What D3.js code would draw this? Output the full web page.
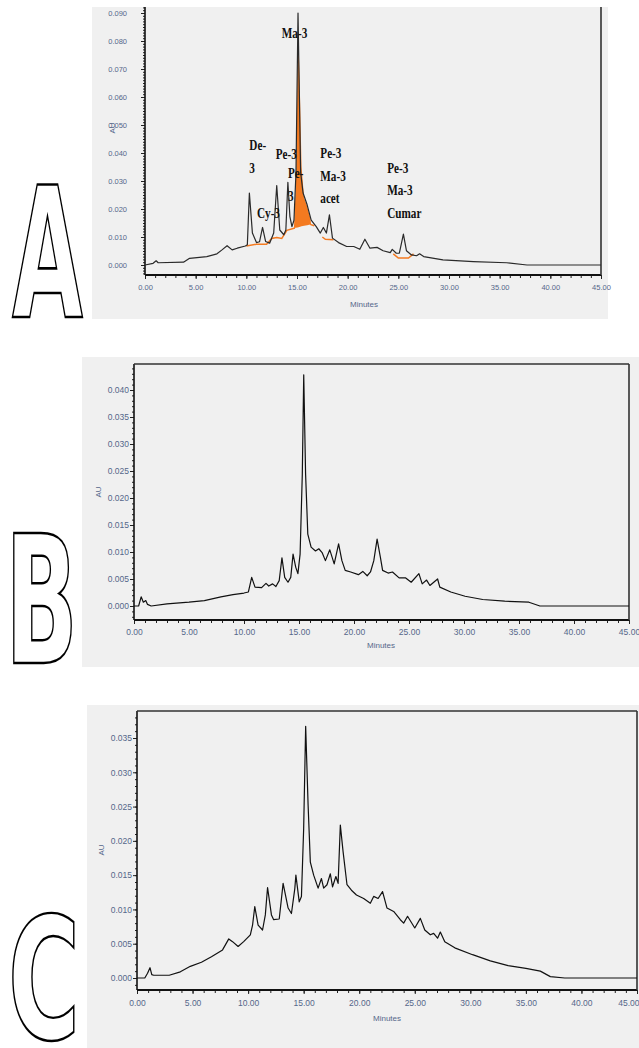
<!DOCTYPE html>
<html>
<head>
<meta charset="utf-8">
<script src="https://cdn.jsdelivr.net/npm/d3@7"></script>
<style>
  body { margin: 0; background: #fff; }
  svg { display: block; }
</style>
</head>
<body>
<svg id="fig" width="639" height="1048"></svg>
<script>
// Chromatograms: [retention time (min), absorbance (AU)]
const traceA = [
  [0.0,0.0000],[0.8,0.0006],[1.1,0.0015],[1.3,0.0008],[3.8,0.0010],[4.4,0.0024],[6.1,0.0030],
  [7.1,0.0040],[7.6,0.0054],[8.1,0.0069],[8.6,0.0054],[9.1,0.0060],[9.9,0.0068],[10.1,0.0072],
  [10.3,0.0257],[10.6,0.0114],[11.0,0.0080],[11.3,0.0083],[11.6,0.0134],[11.9,0.0084],[12.3,0.0078],
  [12.7,0.0114],[13.0,0.0284],[13.3,0.0125],[13.7,0.0108],[13.9,0.0125],[14.1,0.0295],[14.3,0.0173],
  [14.5,0.0137],[14.7,0.0160],[14.9,0.0330],[15.1,0.0900],[15.36,0.0330],[15.6,0.0257],[16.0,0.0215],
  [16.4,0.0160],[16.9,0.0137],[17.3,0.0114],[17.6,0.0134],[17.9,0.0114],[18.2,0.0179],[18.5,0.0096],
  [19.1,0.0080],[19.9,0.0066],[20.6,0.0066],[21.2,0.0056],[21.7,0.0092],[22.2,0.0060],[22.9,0.0063],
  [23.5,0.0051],[24.2,0.0044],[24.4,0.0056],[24.8,0.0042],[25.1,0.0042],[25.5,0.0110],[25.8,0.0051],
  [26.3,0.0036],[26.8,0.0033],[27.1,0.0040],[27.5,0.0030],[29.4,0.0018],[32.4,0.0012],[35.7,0.0008],
  [37.7,0.0000],[45.0,0.0000]
];

// Integration baselines drawn under the identified peaks
const baseA = [
  [[10.0,0.0068],[11.0,0.0074],[12.0,0.0074],[12.5,0.0095],[13.0,0.0098],[13.5,0.0095],[14.0,0.0124],[14.8,0.0132]],
  [[16.3,0.0145],[16.7,0.0140]],
  [[17.5,0.0100],[17.8,0.0092],[18.6,0.0090]],
  [[24.5,0.0040],[25.0,0.0025],[26.0,0.0025],[26.5,0.0040]]
];

// Ma-3 integrated area: [time, top, baseline]
const areaMa3 = [
  [14.7,0.0135,0.0132],[14.9,0.0300,0.0133],[15.05,0.0700,0.0134],[15.15,0.0800,0.0135],
  [15.3,0.0600,0.0137],[15.45,0.0350,0.0138],[15.7,0.0240,0.0140],[16.0,0.0210,0.0142],
  [16.3,0.0170,0.0145],[16.4,0.0145,0.0145]
];

// Peak names: text lines, anchored at [time, AU] of the first line
const peakLabels = [
  { lines: ["Ma-3"], t: 13.5, au: 0.0809 },
  { lines: ["De-", "3"], t: 10.3, au: 0.0410 },
  { lines: ["Pe-3"], t: 12.9, au: 0.0379 },
  { lines: ["Pe-", "3"], t: 14.1, au: 0.0310 },
  { lines: ["Cy-3"], t: 11.05, au: 0.0168 },
  { lines: ["Pe-3", "Ma-3", "acet"], t: 17.3, au: 0.0382 },
  { lines: ["Pe-3", "Ma-3", "Cumar"], t: 23.9, au: 0.0329 }
];

const traceB = [
  [0.0,0.0000],[0.42,0.0000],[0.65,0.0017],[0.85,0.0007],[1.07,0.0010],[1.23,0.0003],[1.56,0.0000],
  [3.0,0.0004],[5.0,0.0007],[6.4,0.0010],[7.9,0.0017],[9.0,0.0021],[10.0,0.0024],[10.4,0.0026],
  [10.7,0.0053],[11.0,0.0035],[11.6,0.0034],[12.0,0.0042],[12.25,0.0037],[12.6,0.0041],[12.9,0.0036],
  [13.2,0.0047],[13.45,0.0089],[13.7,0.0053],[14.0,0.0044],[14.25,0.0053],[14.46,0.0096],[14.7,0.0072],
  [14.9,0.0060],[15.1,0.0096],[15.3,0.0244],[15.43,0.0428],[15.6,0.0244],[15.8,0.0133],[16.1,0.0109],
  [16.5,0.0102],[16.8,0.0106],[17.1,0.0099],[17.4,0.0084],[17.8,0.0104],[18.2,0.0078],[18.6,0.0115],
  [18.9,0.0084],[19.2,0.0066],[19.7,0.0063],[20.4,0.0058],[20.8,0.0064],[21.2,0.0056],[21.5,0.0063],
  [21.8,0.0084],[22.1,0.0124],[22.4,0.0090],[22.6,0.0066],[23.1,0.0061],[23.5,0.0063],[24.1,0.0052],
  [24.7,0.0052],[25.2,0.0044],[25.9,0.0060],[26.2,0.0041],[26.6,0.0048],[26.9,0.0038],[27.6,0.0050],
  [27.8,0.0035],[28.8,0.0026],[30.1,0.0018],[31.7,0.0012],[33.7,0.0009],[35.9,0.0007],[36.9,0.0000],
  [45.0,0.0000]
];

const traceC = [
  [0.0,0.0000],[0.7,0.0000],[0.95,0.0007],[1.17,0.0015],[1.33,0.0005],[1.5,0.0004],[2.9,0.0004],
  [3.9,0.0009],[4.8,0.0017],[5.8,0.0023],[6.7,0.0031],[7.7,0.0041],[8.26,0.0057],[8.6,0.0053],
  [9.1,0.0046],[9.6,0.0053],[10.2,0.0063],[10.4,0.0077],[10.6,0.0104],[10.9,0.0077],[11.3,0.0070],
  [11.55,0.0092],[11.75,0.0132],[12.1,0.0092],[12.3,0.0085],[12.8,0.0086],[13.15,0.0138],[13.6,0.0102],
  [13.9,0.0094],[14.2,0.0130],[14.3,0.0150],[14.6,0.0111],[14.8,0.0119],[15.0,0.0218],[15.18,0.0367],
  [15.4,0.0252],[15.6,0.0169],[15.9,0.0150],[16.3,0.0131],[16.6,0.0145],[16.8,0.0131],[17.1,0.0136],
  [17.4,0.0152],[17.6,0.0133],[17.9,0.0148],[18.1,0.0138],[18.3,0.0223],[18.55,0.0184],[18.9,0.0136],
  [19.3,0.0128],[19.75,0.0121],[20.4,0.0116],[21.0,0.0109],[21.3,0.0119],[21.7,0.0116],[22.1,0.0126],
  [22.5,0.0102],[23.1,0.0097],[23.7,0.0085],[24.0,0.0080],[24.35,0.0090],[25.0,0.0073],[25.5,0.0087],
  [25.9,0.0070],[26.4,0.0063],[26.7,0.0065],[27.05,0.0058],[27.3,0.0067],[27.7,0.0053],[28.6,0.0044],
  [30.2,0.0034],[31.8,0.0025],[33.4,0.0018],[35.0,0.0014],[36.3,0.0010],[37.2,0.0002],[38.5,0.0000],
  [45.0,0.0000]
];

const xMajorTicks = [0, 5, 10, 15, 20, 25, 30, 35, 40, 45];
const xMinorTicks = d3.range(0, 46, 1);
const yTicksA = [0, 0.01, 0.02, 0.03, 0.04, 0.05, 0.06, 0.07, 0.08, 0.09];
const yTicksB = [0, 0.005, 0.01, 0.015, 0.02, 0.025, 0.03, 0.035, 0.04];
const yTicksC = [0, 0.005, 0.01, 0.015, 0.02, 0.025, 0.03, 0.035];
const panelLetters = ["A", "B", "C"];

const svg = d3.select("#fig");
const tickFont = "'Liberation Sans', Arial, sans-serif";
const tickColor = "#55678a";

function drawPanel(cfg) {
  const g = svg.append("g");
  g.append("rect")
    .attr("x", cfg.bg[0]).attr("y", cfg.bg[1])
    .attr("width", cfg.bg[2]).attr("height", cfg.bg[3])
    .attr("fill", "#f0f0f0");

  const x = d3.scaleLinear().domain([0, 45]).range([cfg.l, cfg.r]);
  const y = d3.scaleLinear().domain([0, cfg.yMax]).range([cfg.y0, cfg.yTop]);

  // minor y ticks, every 0.001 AU inside the frame
  const lo = y.invert(cfg.b), hi = y.invert(cfg.t);
  const yMinor = d3.range(Math.ceil(lo / 0.001 - 1e-6), Math.floor(hi / 0.001 + 1e-6) + 1).map(i => i * 0.001);

  const yMin = g.append("g").attr("transform", `translate(${cfg.l},0)`)
    .call(d3.axisLeft(y).tickValues(yMinor).tickSize(2).tickFormat(""));
  const yMaj = g.append("g").attr("transform", `translate(${cfg.l},0)`)
    .call(d3.axisLeft(y).tickValues(cfg.yTicks).tickSize(4).tickPadding(cfg.yPad).tickFormat(d3.format(".3f")));
  const xMin = g.append("g").attr("transform", `translate(0,${cfg.b})`)
    .call(d3.axisBottom(x).tickValues(xMinorTicks).tickSize(3).tickFormat(""));
  const xMaj = g.append("g").attr("transform", `translate(0,${cfg.b})`)
    .call(d3.axisBottom(x).tickValues(xMajorTicks).tickSize(4).tickPadding(cfg.xPad).tickFormat(d3.format(".2f")));

  [yMin, yMaj, xMin, xMaj].forEach(a => {
    a.select(".domain").remove();
    a.selectAll("line").attr("stroke", "#222").attr("stroke-width", 1);
    a.selectAll("text")
      .attr("fill", tickColor)
      .style("font-family", tickFont)
      .style("font-size", cfg.tickSize + "px");
  });

  // keep the last time label inside the page when the frame reaches the edge
  if (cfg.lastLabelEnd) {
    xMaj.selectAll(".tick").filter(d => d === 45).select("text")
      .attr("text-anchor", "end")
      .attr("x", cfg.lastLabelEnd - cfg.r);
  }

  // frame
  const frame = g.append("g").attr("stroke", "#333").attr("fill", "none");
  frame.append("line").attr("x1", cfg.l).attr("x2", cfg.l).attr("y1", cfg.t).attr("y2", cfg.b).attr("stroke-width", 1.6).attr("stroke", "#111");
  frame.append("line").attr("x1", cfg.l).attr("x2", cfg.r).attr("y1", cfg.b).attr("y2", cfg.b).attr("stroke-width", 2).attr("stroke", "#111");
  frame.append("line").attr("x1", cfg.r).attr("x2", cfg.r).attr("y1", cfg.t).attr("y2", cfg.b).attr("stroke-width", 1.6);
  if (cfg.topBorder) {
    frame.append("line").attr("x1", cfg.l).attr("x2", cfg.r).attr("y1", cfg.t).attr("y2", cfg.t).attr("stroke-width", 1.6);
  }

  // axis titles
  g.append("text")
    .attr("x", cfg.minutesPos[0]).attr("y", cfg.minutesPos[1])
    .attr("text-anchor", "middle")
    .attr("fill", tickColor)
    .style("font-family", tickFont).style("font-size", "8px")
    .text("Minutes");
  g.append("text")
    .attr("transform", `translate(${cfg.auPos[0]},${cfg.auPos[1]}) rotate(-90)`)
    .attr("text-anchor", "middle")
    .attr("fill", tickColor)
    .style("font-family", tickFont).style("font-size", "8px")
    .text("AU");

  return { g, x, y };
}

const lineGen = (x, y) => d3.line().x(d => x(d[0])).y(d => y(d[1]));

// ---------- Panel A ----------
const pA = drawPanel({
  bg: [92, 7, 516, 312], l: 145, r: 601, t: 7, b: 275,
  yMax: 0.09, y0: 265, yTop: 13, yTicks: yTicksA,
  yPad: 14, xPad: 6, tickSize: 7.5, topBorder: false,
  minutesPos: [364, 307], auPos: [115, 128]
});

pA.g.append("path")
  .datum(areaMa3)
  .attr("fill", "#f47a20")
  .attr("d", d3.area().x(d => pA.x(d[0])).y0(d => pA.y(d[2])).y1(d => pA.y(d[1])));
baseA.forEach(seg => {
  pA.g.append("path").datum(seg)
    .attr("fill", "none").attr("stroke", "#f47a20").attr("stroke-width", 1.5)
    .attr("d", lineGen(pA.x, pA.y));
});
pA.g.append("path").datum(traceA)
  .attr("fill", "none").attr("stroke", "#2a2a2a").attr("stroke-width", 1.2)
  .attr("stroke-linejoin", "round")
  .attr("d", lineGen(pA.x, pA.y));

peakLabels.forEach(lab => {
  const x0 = pA.x(lab.t), y0 = pA.y(lab.au);
  const t = pA.g.append("text")
    .attr("transform", `translate(${x0},${y0}) scale(0.8,1)`)
    .style("font-family", "'Liberation Serif', 'DejaVu Serif', serif")
    .style("font-weight", "bold")
    .style("font-size", "14px")
    .attr("fill", "#111");
  lab.lines.forEach((s, i) => {
    t.append("tspan").attr("x", 0).attr("y", i * 22.5).text(s);
  });
});

// ---------- Panel B ----------
const pB = drawPanel({
  bg: [82, 357, 557, 310], l: 134, r: 629, t: 364, b: 620,
  yMax: 0.04, y0: 606, yTop: 390, yTicks: yTicksB,
  yPad: 1, xPad: 5, tickSize: 8.5, topBorder: true,
  minutesPos: [381, 648], auPos: [101, 492]
});
pB.g.append("path").datum(traceB)
  .attr("fill", "none").attr("stroke", "#111").attr("stroke-width", 1.2)
  .attr("stroke-linejoin", "round")
  .attr("d", lineGen(pB.x, pB.y));

// ---------- Panel C ----------
const pC = drawPanel({
  bg: [87, 705, 552, 343], l: 137, r: 637, t: 711, b: 990,
  yMax: 0.035, y0: 978, yTop: 738, yTicks: yTicksC,
  yPad: 1, xPad: 6, tickSize: 8.5, topBorder: true,
  minutesPos: [387, 1021], auPos: [104, 850], lastLabelEnd: 639
});
pC.g.append("path").datum(traceC)
  .attr("fill", "none").attr("stroke", "#111").attr("stroke-width", 1.2)
  .attr("stroke-linejoin", "round")
  .attr("d", lineGen(pC.x, pC.y));

// ---------- Outlined panel letters ----------
const letterBoxes = [
  [12, 185, 71, 132],
  [5, 533, 73, 130],
  [8, 915, 72, 124]
];
panelLetters.forEach((L, i) => {
  const [bx, by, bw, bh] = letterBoxes[i];
  const t = svg.append("text")
    .text(L)
    .style("font-family", "'DejaVu Sans', sans-serif")
    .style("font-weight", "bold")
    .style("font-size", "100px")
    .attr("fill", "#fff")
    .attr("stroke", "#000")
    .attr("stroke-width", 2)
    .attr("vector-effect", "non-scaling-stroke")
    .attr("stroke-linejoin", "miter");
  const bb = t.node().getBBox();
  const capH = 72.9; // cap height of the bold face at 100px
  const sx = bw / bb.width, sy = bh / capH;
  t.attr("transform", `translate(${bx - bb.x * sx},${by + bh}) scale(${sx},${sy})`);
});
</script>
</body>
</html>
